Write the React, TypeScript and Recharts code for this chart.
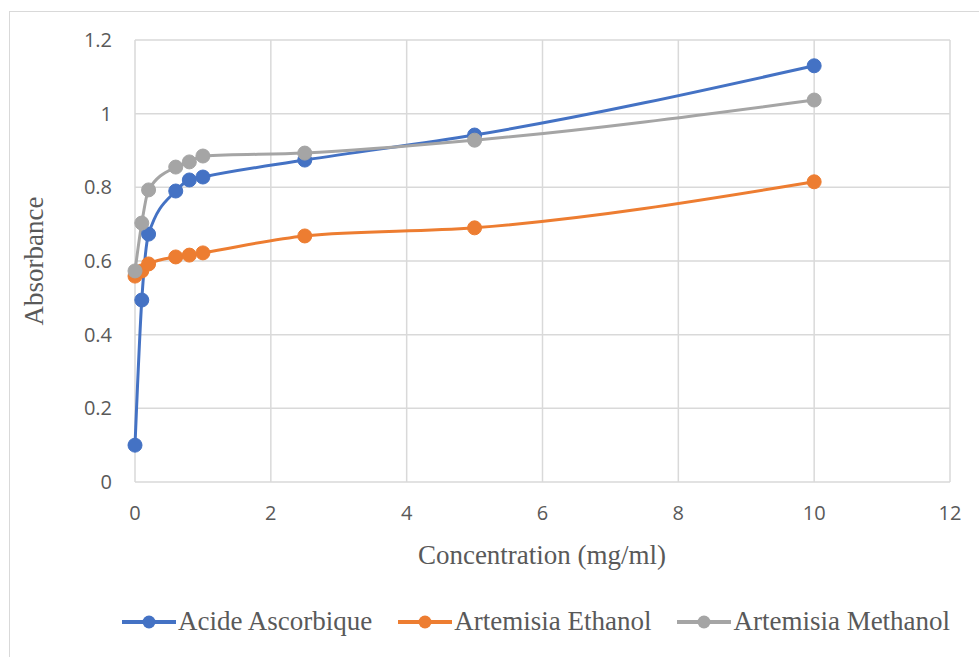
import React from 'react';
import { LineChart, Line, XAxis, YAxis, CartesianGrid, Label } from 'recharts';

const concentrations = [0, 0.1, 0.2, 0.6, 0.8, 1, 2.5, 5, 10];
const acideAscorbique = [0.1, 0.494, 0.673, 0.79, 0.82, 0.828, 0.874, 0.942, 1.13];
const artemisiaEthanol = [0.559, 0.573, 0.592, 0.611, 0.616, 0.622, 0.668, 0.69, 0.815];
const artemisiaMethanol = [0.573, 0.703, 0.793, 0.855, 0.869, 0.885, 0.893, 0.928, 1.037];

const xTicks = [0, 2, 4, 6, 8, 10, 12];
const yTicks = [0, 0.2, 0.4, 0.6, 0.8, 1, 1.2];

const series = [
  { key: 'asc', name: 'Acide Ascorbique', color: '#4472C4', values: acideAscorbique },
  { key: 'eth', name: 'Artemisia Ethanol', color: '#ED7D31', values: artemisiaEthanol },
  { key: 'met', name: 'Artemisia Methanol', color: '#A5A5A5', values: artemisiaMethanol },
];

const data = concentrations.map((c, i) => ({
  c,
  asc: acideAscorbique[i],
  eth: artemisiaEthanol[i],
  met: artemisiaMethanol[i],
}));

const tickStyle = { fill: '#595959', fontSize: 20, fontFamily: '"Open Sans", sans-serif' };
const titleFont = '"Liberation Serif", "Times New Roman", serif';

export default function App() {
  return (
    <div style={{ position: 'absolute', left: 0, top: 0, width: 979, height: 657, overflow: 'hidden', background: '#fff' }}>
      {/* chart frame, only left and top edges show */}
      <div style={{ position: 'absolute', left: 9, top: 11, width: 1100, height: 800, border: '1px solid #D9D9D9' }} />
      <LineChart width={979} height={657} data={data} margin={{ top: 40, right: 29, left: 0, bottom: 115 }}>
        <CartesianGrid stroke="#D9D9D9" strokeWidth={1.5} />
        <XAxis
          dataKey="c"
          type="number"
          domain={[0, 12]}
          ticks={xTicks}
          height={60}
          axisLine={false}
          tickLine={false}
          tickSize={0}
          tickMargin={24}
          tick={tickStyle}
        >
          <Label
            content={() => (
              <text x={542} y={564} textAnchor="middle" fill="#595959" fontSize={27} fontFamily={titleFont}>
                Concentration (mg/ml)
              </text>
            )}
          />
        </XAxis>
        <YAxis
          type="number"
          domain={[0, 1.2]}
          ticks={yTicks}
          width={135}
          axisLine={false}
          tickLine={false}
          tickSize={0}
          tickMargin={23}
          tick={tickStyle}
        >
          <Label
            content={() => (
              <text
                x={43}
                y={261}
                textAnchor="middle"
                fill="#595959"
                fontSize={27}
                fontFamily={titleFont}
                transform="rotate(-90 43 261)"
              >
                Absorbance
              </text>
            )}
          />
        </YAxis>
        {series.map((s) => (
          <Line
            key={s.key}
            type="monotone"
            dataKey={s.key}
            name={s.name}
            stroke={s.color}
            strokeWidth={3}
            dot={{ r: 7, fill: s.color, stroke: s.color, strokeWidth: 1 }}
            isAnimationActive={false}
          />
        ))}
      </LineChart>
      {/* legend */}
      <div
        style={{
          position: 'absolute',
          left: 122,
          top: 606,
          display: 'flex',
          alignItems: 'center',
          gap: 26,
          fontFamily: titleFont,
          fontSize: 27,
          color: '#595959',
          whiteSpace: 'nowrap',
        }}
      >
        {series.map((s) => (
          <div key={s.key} style={{ display: 'flex', alignItems: 'center' }}>
            <svg width={54} height={16} style={{ marginRight: 2 }}>
              <line x1={0} y1={8} x2={54} y2={8} stroke={s.color} strokeWidth={4} />
              <circle cx={27} cy={8} r={6.5} fill={s.color} />
            </svg>
            <span>{s.name}</span>
          </div>
        ))}
      </div>
    </div>
  );
}
